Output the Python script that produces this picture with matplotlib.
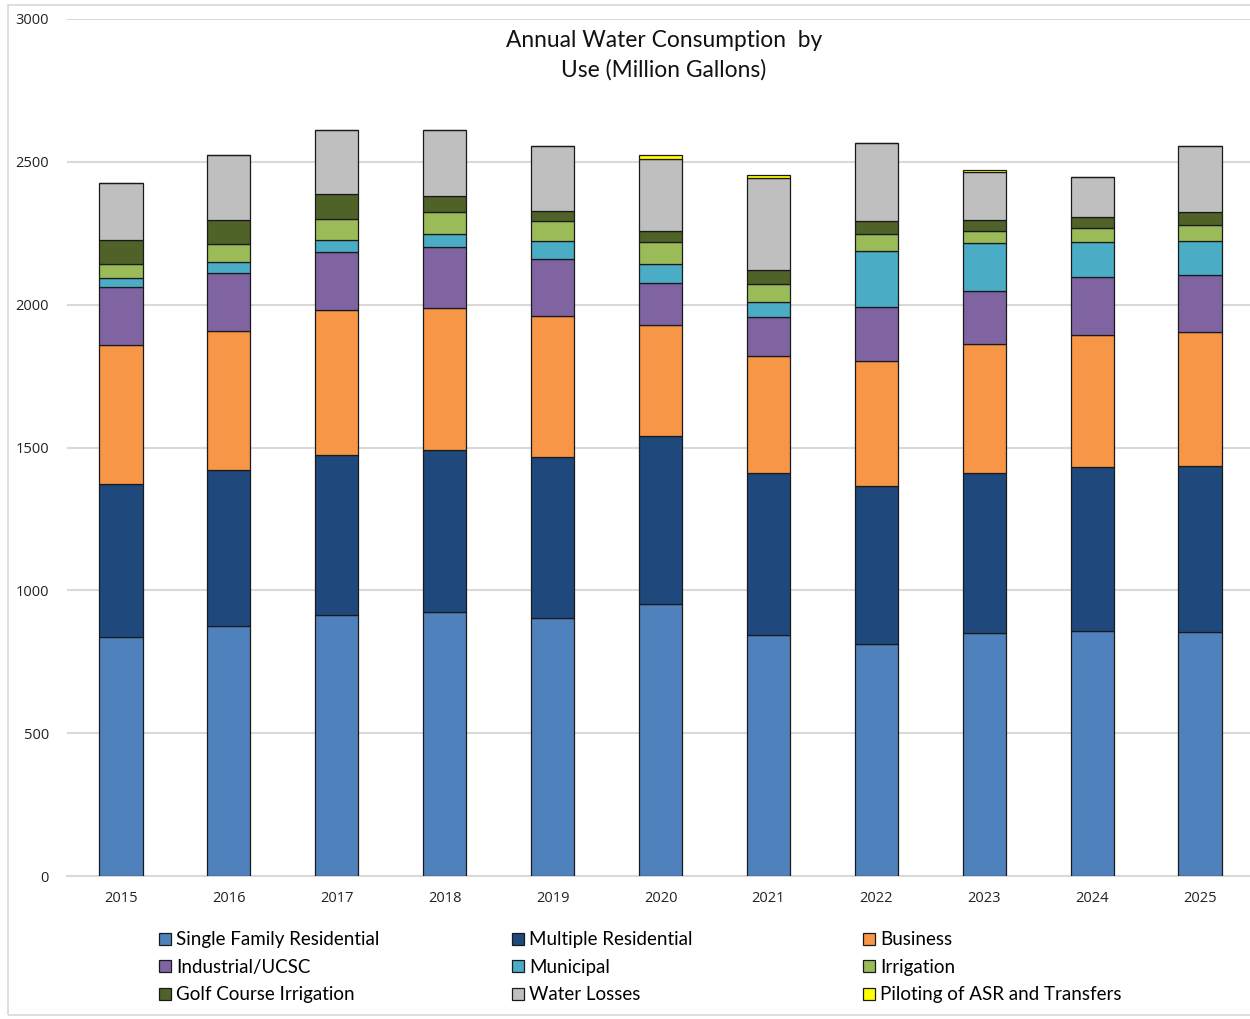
import matplotlib
matplotlib.use("Agg")
import matplotlib.pyplot as plt
from matplotlib.patches import Rectangle
import numpy as np

years = ["2015", "2016", "2017", "2018", "2019", "2020", "2021", "2022", "2023", "2024", "2025"]

single_family = [835, 875, 914, 924, 903, 952, 844, 812, 851, 858, 854]
multiple_res = [537, 546, 560, 567, 564, 588, 567, 553, 560, 574, 581]
business = [487, 486, 506, 498, 494, 388, 408, 438, 452, 462, 468]
industrial = [202, 203, 204, 213, 198, 147, 137, 190, 185, 202, 201]
municipal = [33, 39, 42, 46, 65, 66, 52, 194, 167, 125, 120]
irrigation = [47, 62, 75, 75, 68, 77, 65, 59, 42, 46, 54]
golf = [85, 84, 86, 58, 37, 40, 47, 46, 38, 41, 45]
water_losses = [199, 229, 223, 232, 225, 251, 324, 275, 168, 140, 231]
asr_transfers = [0, 0, 0, 0, 0, 15, 9, 0, 7, 0, 0]

series = [
    ("Single Family Residential", single_family, "#4F81BD"),
    ("Multiple Residential", multiple_res, "#1F497D"),
    ("Business", business, "#F79646"),
    ("Industrial/UCSC", industrial, "#8064A2"),
    ("Municipal", municipal, "#4BACC6"),
    ("Irrigation", irrigation, "#9BBB59"),
    ("Golf Course Irrigation", golf, "#4F6228"),
    ("Water Losses", water_losses, "#BFBFBF"),
    ("Piloting of ASR and Transfers", asr_transfers, "#FFFF00"),
]

W, H = 1250, 1019
fig = plt.figure(figsize=(W / 100, H / 100), dpi=100)

# outer chart border
fig.patches.append(Rectangle((8 / W, 1 - 1015 / H), (W + 10 - 8) / W, (1015 - 5) / H,
                             transform=fig.transFigure, fill=False,
                             edgecolor="#D9D9D9", linewidth=1.2, zorder=0))

left = 67 / W
bottom = 1 - 876 / H
top = 1 - 19 / H
ax = fig.add_axes([left, bottom, 1187 / W, top - bottom])

x = np.arange(len(years))
base = np.zeros(len(years))
handles = []
for name, vals, color in series:
    vals = np.array(vals, dtype=float)
    b = ax.bar(x, vals, width=0.4, bottom=base, color=color, edgecolor="#1a1a1a",
               linewidth=0.9, label=name, zorder=3)
    handles.append(b)
    base += vals

ax.set_ylim(0, 3000)
ax.set_xlim(-0.5, 10.5)
ax.set_yticks(np.arange(0, 3001, 500))
ax.yaxis.grid(True, color="#D9D9D9", linewidth=1.5, zorder=0)
ax.set_axisbelow(True)
for s in ["top", "right", "left"]:
    ax.spines[s].set_visible(False)
ax.spines["bottom"].set_color("#D9D9D9")
ax.spines["bottom"].set_linewidth(1.5)
ax.tick_params(axis="both", length=0, labelsize=10.5, labelcolor="#222222")
ax.tick_params(axis="y", pad=13)
ax.tick_params(axis="x", pad=11)
ax.set_xticks(x)
ax.set_xticklabels(years)
for lab in ax.get_xticklabels() + ax.get_yticklabels():
    lab.set_family("Open Sans")

fig.text(664 / W, 1 - 55 / H, "Annual Water Consumption  by\nUse (Million Gallons)",
         ha="center", va="center", fontsize=16.4, family="Lato",
         color="#111111", linespacing=1.45)

# legend: three columns placed side by side
col_x = [150, 503, 854]
for c in range(3):
    idx = [c, c + 3, c + 6]
    fig.legend([handles[i] for i in idx], [series[i][0] for i in idx],
               loc="upper left", bbox_to_anchor=(col_x[c] / W, 1 - 922 / H),
               frameon=False, handlelength=0.6, handleheight=0.6,
               handletextpad=0.3, labelspacing=0.56, borderpad=0.0,
               prop={"family": "Lato", "size": 13.5})

fig.savefig("out.png", dpi=100)
